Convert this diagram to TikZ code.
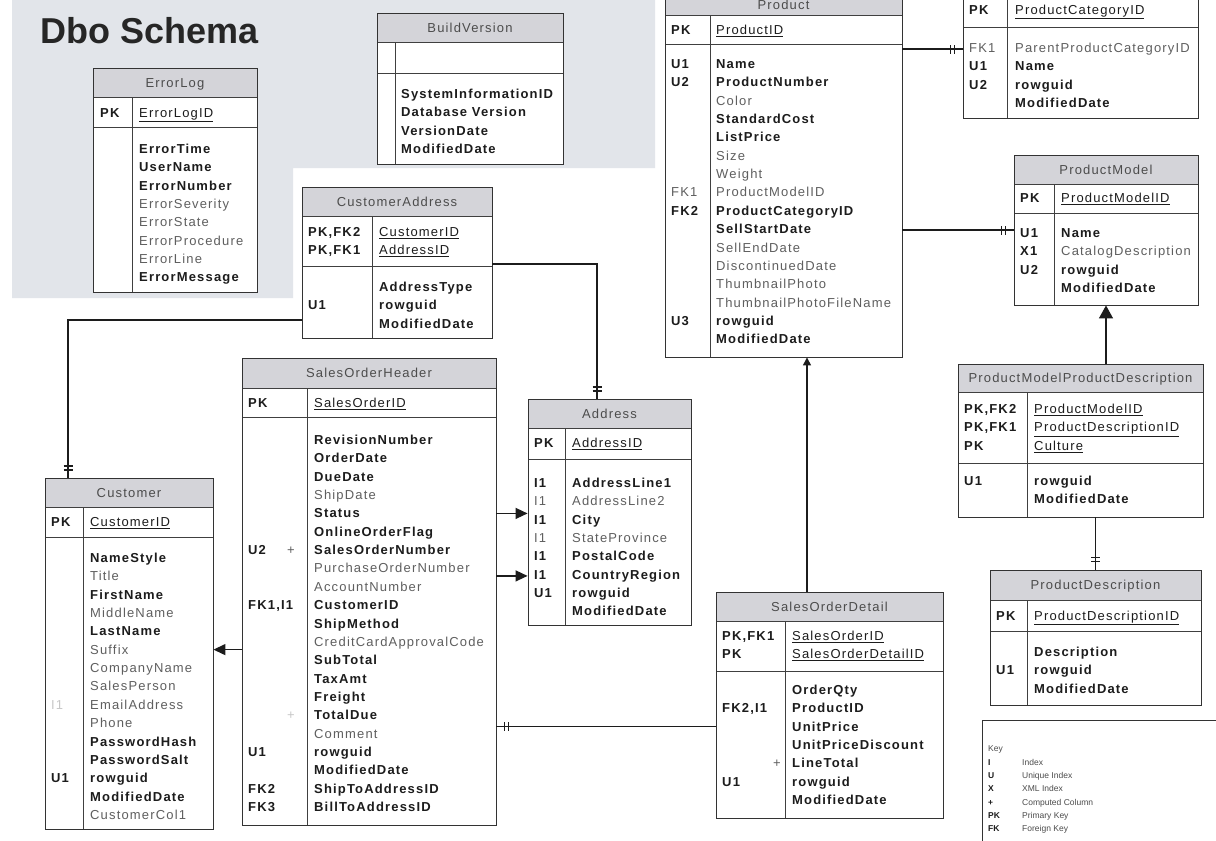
\documentclass[tikz,border=0pt]{standalone}
\usepackage{fontspec}
\setmainfont{Liberation Sans}
\newfontfamily\erfont[LetterSpace=9]{Liberation Sans}
\usetikzlibrary{arrows.meta,fit,decorations.markings}

\definecolor{hdrgrey}{RGB}{212,212,217}
\definecolor{panelgrey}{RGB}{226,229,234}
\definecolor{ink}{RGB}{28,28,28}
\definecolor{soft}{RGB}{95,95,95}

% one text cell of a table
\newcounter{fldn}
\newcommand\fld[3]{\stepcounter{fldn}\node[#1] (fld\arabic{fldn}) at (#2) {#3};}
% start a run of rows: key column x, field column x, first row y
\newcommand\tablerows[3]{\def\kx{#1}\def\fx{#2}\def\ybase{#3}\def\rowi{0}}
% one row: key style, key text, field style, field text
\newcommand\errow[4]{%
  \pgfmathsetmacro\yy{\ybase+\rowi*18.35}%
  \if\relax\detokenize{#2}\relax\else\fld{#1}{\kx,\yy}{#2}\fi
  \fld{#3}{\fx,\yy}{#4}%
  \pgfmathtruncatemacro\rowi{\rowi+1}}
% table frame: name, left, top, right, bottom, divider x, header bottom, key-row bottom, title
\newcommand\ertable[9]{%
  \fill[white] (#2,#3) rectangle (#4,#5);
  \fill[hdrgrey] (#2,#3) rectangle (#4,#7);
  \draw[tline] (#2,#7) -- (#4,#7) (#2,#8) -- (#4,#8) (#6,#7) -- (#6,#5);
  \node[tblframe, fit={(#2,#3) (#4,#5)}] (#1) {};
  \if\relax\detokenize{#9}\relax\else
    \node[ttl] (#1-title) at ({(#2+#4)/2},{(#3+#7)/2}) {#9};
  \fi
}

\begin{document}
\begin{tikzpicture}[x=1pt,y=-1pt,
  base/.style={anchor=base west, inner sep=0pt, yshift=-4.5pt,
    font=\erfont\fontsize{13}{15}\selectfont},
  kb/.style={base, font=\erfont\fontsize{13}{15}\selectfont\bfseries, text=ink},
  kr/.style={base, text=soft},
  kf/.style={base, text=black!22},
  fb/.style={kb},
  fr/.style={kr},
  fu/.style={base, text=ink},
  ttl/.style={anchor=base, inner sep=0pt, yshift=-4.5pt,
    font=\erfont\fontsize{13}{15}\selectfont, text=black!70},
  tline/.style={draw=black!75, line width=0.8pt},
  tblframe/.style={draw=black!80, line width=0.9pt, inner sep=0pt, rectangle},
  conn/.style={draw=ink, line width=1.4pt},
  onemark/.style={postaction={decorate}, decoration={markings,
    mark=at position -8pt with {\draw[ink, line width=1.5pt]
      (0pt,-4.5pt)--(0pt,4.5pt) (-4pt,-4.5pt)--(-4pt,4.5pt);}}},
  arr/.style={conn, -{Triangle[length=12pt,width=11pt]}},
  lg/.style={anchor=base west, inner sep=0pt, yshift=-3pt,
    font=\fontsize{8.5}{10}\selectfont, text=black!70},
  lgb/.style={lg, font=\fontsize{8.5}{10}\selectfont\bfseries, text=ink},
]
\useasboundingbox (0,0) rectangle (1216,841);
\clip (0,0) rectangle (1216,841);
\fill[white] (0,0) rectangle (1216,841);

% shaded panel behind the title
\fill[panelgrey] (12,0) -- (655,0) -- (655,168) -- (293,168) -- (293,298) -- (12,298) -- cycle;
\node[anchor=base west, inner sep=0pt, font=\fontsize{36}{40}\selectfont\bfseries,
  text=black!85] (schematitle) at (40,43) {Dbo Schema};

% ---------------- ErrorLog
\ertable{errlog}{93}{68}{257}{292}{132}{97}{127}{ErrorLog}
\fld{kb}{100,113}{PK}\fld{fu}{139,113}{\underline{ErrorLogID}}
\tablerows{100}{139}{149}
\errow{kb}{}{fb}{ErrorTime}
\errow{kb}{}{fb}{UserName}
\errow{kb}{}{fb}{ErrorNumber}
\errow{kb}{}{fr}{ErrorSeverity}
\errow{kb}{}{fr}{ErrorState}
\errow{kb}{}{fr}{ErrorProcedure}
\errow{kb}{}{fr}{ErrorLine}
\errow{kb}{}{fb}{ErrorMessage}

% ---------------- BuildVersion
\ertable{buildver}{377}{13}{563}{164}{395}{42}{73}{BuildVersion}
\tablerows{383}{401}{94}
\errow{kb}{}{fb}{SystemInformationID}
\errow{kb}{}{fb}{Database Version}
\errow{kb}{}{fb}{VersionDate}
\errow{kb}{}{fb}{ModifiedDate}

% ---------------- Product
\ertable{product}{665}{-6}{902}{357}{710}{15}{44}{Product}
\fld{kb}{671,30}{PK}\fld{fu}{716,30}{\underline{ProductID}}
\tablerows{671}{716}{64}
\errow{kb}{U1}{fb}{Name}
\errow{kb}{U2}{fb}{ProductNumber}
\errow{kb}{}{fr}{Color}
\errow{kb}{}{fb}{StandardCost}
\errow{kb}{}{fb}{ListPrice}
\errow{kb}{}{fr}{Size}
\errow{kb}{}{fr}{Weight}
\errow{kr}{FK1}{fr}{ProductModelID}
\errow{kb}{FK2}{fb}{ProductCategoryID}
\errow{kb}{}{fb}{SellStartDate}
\errow{kb}{}{fr}{SellEndDate}
\errow{kb}{}{fr}{DiscontinuedDate}
\errow{kb}{}{fr}{ThumbnailPhoto}
\errow{kb}{}{fr}{ThumbnailPhotoFileName}
\errow{kb}{U3}{fb}{rowguid}
\errow{kb}{}{fb}{ModifiedDate}

% ---------------- ProductCategory (its header lies above the sheet)
\ertable{prodcat}{963}{-34}{1198}{118}{1007}{-4}{27}{}
\fld{kb}{969,10}{PK}\fld{fu}{1015,10}{\underline{ProductCategoryID}}
\tablerows{969}{1015}{48}
\errow{kr}{FK1}{fr,alias=parentcat}{ParentProductCategoryID}
\errow{kb}{U1}{fb}{Name}
\errow{kb}{U2}{fb}{rowguid}
\errow{kb}{}{fb}{ModifiedDate}

% ---------------- ProductModel
\ertable{prodmodel}{1014}{155}{1198}{305}{1054}{184}{213}{ProductModel}
\fld{kb}{1020,198}{PK}\fld{fu}{1061,198}{\underline{ProductModelID}}
\tablerows{1020}{1061}{233}
\errow{kb}{U1}{fb}{Name}
\errow{kb}{X1}{fr}{CatalogDescription}
\errow{kb}{U2}{fb}{rowguid}
\errow{kb}{}{fb}{ModifiedDate}

% ---------------- ProductModelProductDescription
\ertable{pmpd}{958}{364}{1203}{517}{1027}{392}{463}{ProductModelProductDescription}
\tablerows{964}{1034}{409}
\errow{kb}{PK,FK2}{fu}{\underline{ProductModelID}}
\errow{kb}{PK,FK1}{fu}{\underline{ProductDescriptionID}}
\errow{kb}{PK}{fu}{\underline{Culture}}
\tablerows{964}{1034}{481}
\errow{kb}{U1}{fb}{rowguid}
\errow{kb}{}{fb}{ModifiedDate}

% ---------------- ProductDescription
\ertable{proddesc}{990}{570}{1201}{705}{1027}{600}{631}{ProductDescription}
\fld{kb}{996,616}{PK}\fld{fu}{1034,616}{\underline{ProductDescriptionID}}
\tablerows{996}{1034}{652}
\errow{kb}{}{fb}{Description}
\errow{kb}{U1}{fb}{rowguid}
\errow{kb}{}{fb}{ModifiedDate}

% ---------------- CustomerAddress
\ertable{custaddr}{302}{187}{492}{338}{372}{216}{266}{CustomerAddress}
\tablerows{308}{379}{232}
\errow{kb}{PK,FK2}{fu}{\underline{CustomerID}}
\errow{kb}{PK,FK1}{fu}{\underline{AddressID}}
\tablerows{308}{379}{287}
\errow{kb}{}{fb}{AddressType}
\errow{kb}{U1}{fb}{rowguid}
\errow{kb}{}{fb}{ModifiedDate}

% ---------------- Address
\ertable{address}{528}{399}{691}{625}{565}{428}{459}{Address}
\fld{kb}{534,443}{PK}\fld{fu}{572,443}{\underline{AddressID}}
\tablerows{534}{572}{483}
\errow{kb}{I1}{fb}{AddressLine1}
\errow{kr}{I1}{fr}{AddressLine2}
\errow{kb}{I1}{fb}{City}
\errow{kr}{I1}{fr}{StateProvince}
\errow{kb}{I1}{fb}{PostalCode}
\errow{kb}{I1}{fb,alias=country}{CountryRegion}
\errow{kb}{U1}{fb}{rowguid}
\errow{kb}{}{fb}{ModifiedDate}

% ---------------- SalesOrderHeader
\ertable{soh}{242}{358}{496}{825}{307}{388}{417}{SalesOrderHeader}
\fld{kb}{248,403}{PK}\fld{fu}{314,403}{\underline{SalesOrderID}}
\tablerows{248}{314}{440}
\errow{kb}{}{fb}{RevisionNumber}
\errow{kb}{}{fb}{OrderDate}
\errow{kb}{}{fb}{DueDate}
\errow{kb}{}{fr}{ShipDate}
\errow{kb}{}{fb,alias=sohstatus}{Status}
\errow{kb}{}{fb}{OnlineOrderFlag}
\errow{kb}{U2}{fb}{SalesOrderNumber}
\errow{kb}{}{fr}{PurchaseOrderNumber}
\errow{kb}{}{fr}{AccountNumber}
\errow{kb}{FK1,I1}{fb}{CustomerID}
\errow{kb}{}{fb}{ShipMethod}
\errow{kb}{}{fr}{CreditCardApprovalCode}
\errow{kb}{}{fb}{SubTotal}
\errow{kb}{}{fb}{TaxAmt}
\errow{kb}{}{fb}{Freight}
\errow{kb}{}{fb}{TotalDue}
\errow{kb}{}{fr}{Comment}
\errow{kb}{U1}{fb}{rowguid}
\errow{kb}{}{fb}{ModifiedDate}
\errow{kb}{FK2}{fb}{ShipToAddressID}
\errow{kb}{FK3}{fb}{BillToAddressID}
\fld{kr}{287,550.1}{+}
\fld{kf}{287,715.25}{+}

% ---------------- Customer
\ertable{customer}{45}{478}{213}{829}{83}{507}{537}{Customer}
\fld{kb}{51,522}{PK}\fld{fu}{90,522}{\underline{CustomerID}}
\tablerows{51}{90}{558}
\errow{kb}{}{fb}{NameStyle}
\errow{kb}{}{fr}{Title}
\errow{kb}{}{fb}{FirstName}
\errow{kb}{}{fr}{MiddleName}
\errow{kb}{}{fb}{LastName}
\errow{kb}{}{fr,alias=custsuffix}{Suffix}
\errow{kb}{}{fr}{CompanyName}
\errow{kb}{}{fr}{SalesPerson}
\errow{kf}{I1}{fr}{EmailAddress}
\errow{kb}{}{fr}{Phone}
\errow{kb}{}{fb}{PasswordHash}
\errow{kb}{}{fb}{PasswordSalt}
\errow{kb}{U1}{fb}{rowguid}
\errow{kb}{}{fb}{ModifiedDate}
\errow{kb}{}{fr}{CustomerCol1}

% ---------------- SalesOrderDetail
\ertable{sod}{716}{592}{943}{818}{785}{621}{671}{SalesOrderDetail}
\tablerows{722}{792}{636}
\errow{kb}{PK,FK1}{fu}{\underline{SalesOrderID}}
\errow{kb}{PK}{fu}{\underline{SalesOrderDetailID}}
\tablerows{722}{792}{690}
\errow{kb}{}{fb}{OrderQty}
\errow{kb}{FK2,I1}{fb}{ProductID}
\errow{kb}{}{fb,alias=sodprice}{UnitPrice}
\errow{kb}{}{fb}{UnitPriceDiscount}
\errow{kb}{}{fb}{LineTotal}
\errow{kb}{U1}{fb}{rowguid}
\errow{kb}{}{fb}{ModifiedDate}
\fld{kr}{773,763.4}{+}

% ---------------- relationships
\coordinate (caout) at (492,264);
\coordinate (addrin) at (597,399);
\coordinate (caleft) at (302,320);
\coordinate (custin) at (68,478);
\coordinate (sodtop) at (807,592);

\draw[conn, onemark] (product.east |- parentcat) -- (parentcat -| prodcat.west);
\draw[conn, onemark] (product.east |- prodmodel.west) -- (prodmodel.west);
\draw[conn, -{Triangle[length=13pt,width=14pt]}] (prodmodel.south |- pmpd.north) -- (prodmodel.south);
\draw[conn, onemark] (proddesc.north |- pmpd.south) -- (proddesc.north);
\draw[conn, onemark] (caout) -| (addrin);
\draw[conn, onemark] (caleft) -| (custin);
\draw[arr] (soh.east |- sohstatus) -- (sohstatus -| address.west);
\draw[arr] (soh.east |- country) -- (country -| address.west);
\draw[arr] (soh.west |- custsuffix) -- (custsuffix -| customer.east);
\draw[conn, onemark] (sod.west |- sodprice) -- (sodprice -| soh.east);
\draw[conn, -{Triangle[length=8pt,width=8pt]}] (sodtop) -- (sodtop |- product.south);

% ---------------- key
\node[tblframe, fill=white, fit={(982,720) (1240,860)}] (legend) {};
\node[lg] (lgkey) at (988,748) {Key};
\node[lgb] (lgi) at (988,762) {I};   \node[lg] (lgit) at (1022,762) {Index};
\node[lgb] (lgu) at (988,775) {U};   \node[lg] (lgut) at (1022,775) {Unique Index};
\node[lgb] (lgx) at (988,788) {X};   \node[lg] (lgxt) at (1022,788) {XML Index};
\node[lgb] (lgc) at (988,802) {+};   \node[lg] (lgct) at (1022,802) {Computed Column};
\node[lgb] (lgp) at (988,815) {PK};  \node[lg] (lgpt) at (1022,815) {Primary Key};
\node[lgb] (lgf) at (988,828) {FK};  \node[lg] (lgft) at (1022,828) {Foreign Key};
\end{tikzpicture}
\end{document}
